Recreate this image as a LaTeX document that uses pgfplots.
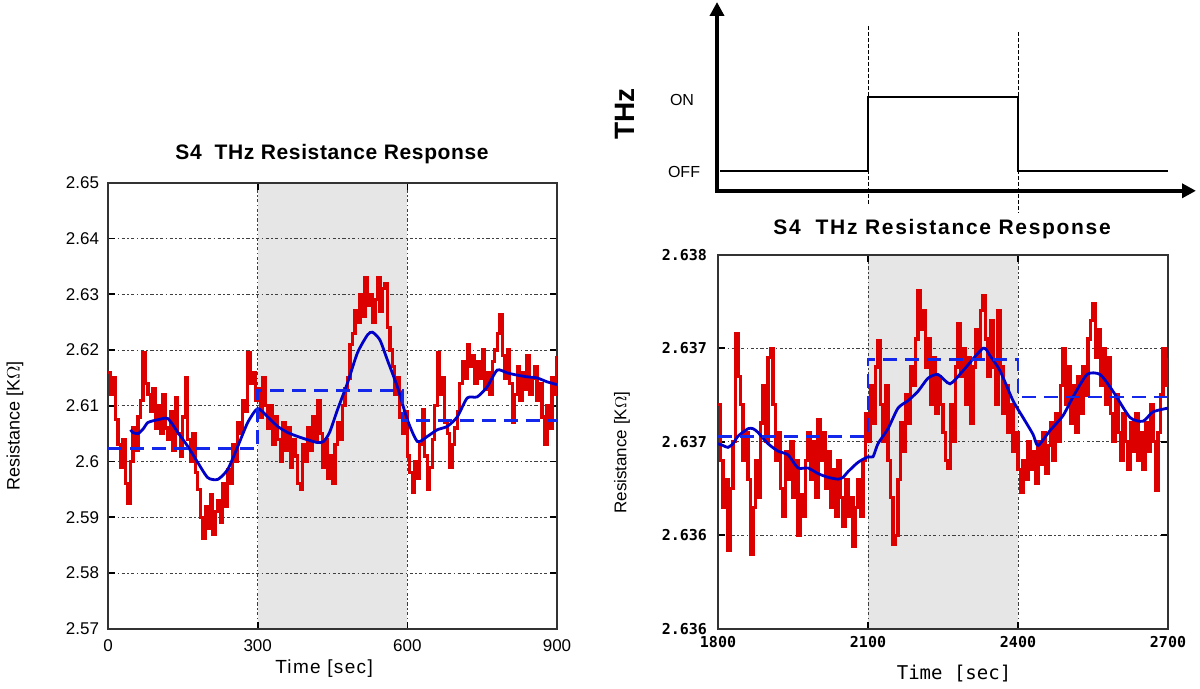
\documentclass[border=0pt]{standalone}
\usepackage{fontspec}
\setmainfont{Liberation Sans}
\newfontfamily\monof{DejaVu Sans Mono}
\usepackage{pgfplots}
\usepackage{pgfplotstable}
\pgfplotsset{compat=1.18}
\usetikzlibrary{arrows.meta}
\definecolor{rred}{RGB}{220,0,0}
\definecolor{bblue}{RGB}{0,0,200}
\definecolor{dblue}{RGB}{20,40,235}
\definecolor{bggray}{RGB}{230,230,230}

\pgfplotstableread{
t v
0 2.6160
5 2.6120
10 2.6150
15 2.6075
20 2.6030
25 2.5990
30 2.6040
35 2.5960
40 2.5925
45 2.6000
50 2.6060
55 2.6020
60 2.6080
65 2.6110
70 2.6195
75 2.6140
80 2.6120
85 2.6090
90 2.6130
95 2.6060
100 2.6100
105 2.6050
110 2.6120
115 2.6060
120 2.6040
125 2.6090
130 2.6020
135 2.6115
140 2.6050
145 2.6010
150 2.6080
155 2.6150
160 2.6040
165 2.6000
170 2.6050
175 2.5980
180 2.5950
185 2.5900
190 2.5863
195 2.5920
200 2.5880
205 2.5940
210 2.5870
215 2.5910
220 2.5930
225 2.5890
230 2.5960
235 2.5920
240 2.5985
245 2.5960
250 2.6030
255 2.6000
260 2.6070
265 2.6050
270 2.6110
275 2.6090
280 2.6195
285 2.6140
290 2.6160
295 2.6110
300 2.6130
305 2.6080
310 2.6150
315 2.6100
320 2.6060
325 2.6100
330 2.6030
335 2.6080
340 2.6040
345 2.6000
350 2.6070
355 2.6020
360 2.6060
365 2.5990
370 2.6040
375 2.6010
380 2.5960
385 2.5950
390 2.6030
395 2.6000
400 2.6060
405 2.6020
410 2.6080
415 2.6040
420 2.6110
425 2.6050
430 2.5990
435 2.6040
440 2.5970
445 2.6010
450 2.5960
455 2.6030
460 2.6070
465 2.6040
470 2.6100
475 2.6130
480 2.6150
485 2.6210
490 2.6230
495 2.6270
500 2.6250
505 2.6300
510 2.6260
515 2.6330
520 2.6280
525 2.6300
530 2.6250
535 2.6290
540 2.6330
545 2.6270
550 2.6310
555 2.6320
560 2.6240
565 2.6200
570 2.6170
575 2.6120
580 2.6150
585 2.6080
590 2.6050
595 2.6090
600 2.6010
605 2.5980
610 2.5945
615 2.6000
620 2.5970
625 2.6030
630 2.6093
635 2.6010
640 2.5950
645 2.5990
650 2.6040
655 2.6100
660 2.6195
665 2.6120
670 2.6150
675 2.6070
680 2.6050
685 2.5990
690 2.6030
695 2.6060
700 2.6090
705 2.6140
710 2.6180
715 2.6150
720 2.6210
725 2.6170
730 2.6190
735 2.6140
740 2.6180
745 2.6150
750 2.6200
755 2.6130
760 2.6160
765 2.6120
770 2.6180
775 2.6200
780 2.6230
785 2.6263
790 2.6190
795 2.6150
800 2.6200
805 2.6140
810 2.6070
815 2.6120
820 2.6170
825 2.6110
830 2.6160
835 2.6130
840 2.6190
845 2.6120
850 2.6150
855 2.6170
860 2.6110
865 2.6140
870 2.6080
875 2.6030
880 2.6100
885 2.6060
890 2.6150
895 2.6120
900 2.6190
}\leftred

\pgfplotstableread{
t v
45 2.6057
50 2.6052
60 2.6050
70 2.6058
80 2.6070
100 2.6075
120 2.6077
140 2.6052
160 2.6027
180 2.5998
200 2.5971
220 2.5968
240 2.5986
260 2.6027
280 2.6070
300 2.6095
320 2.6080
340 2.6063
360 2.6052
380 2.6045
400 2.6039
420 2.6034
432 2.6036
444 2.6052
460 2.6093
480 2.6141
500 2.6195
520 2.6227
530 2.6232
545 2.6218
560 2.6182
580 2.6134
600 2.6075
620 2.6036
640 2.6045
660 2.6057
680 2.6063
700 2.6080
720 2.6114
740 2.6116
760 2.6134
780 2.6164
800 2.6159
820 2.6155
840 2.6152
860 2.6150
880 2.6143
900 2.6138
}\leftblue

\pgfplotstableread{
t v
0 2.6023
300 2.6023
300 2.6127
590 2.6127
590 2.6073
900 2.6073
}\leftmean

\pgfplotstableread{
t v
1800 2.63720
1805 2.63690
1810 2.63665
1815 2.63680
1820 2.63642
1825 2.63675
1830 2.63700
1835 2.63758
1840 2.63735
1845 2.63720
1850 2.63690
1855 2.63705
1860 2.63680
1865 2.63640
1870 2.63665
1875 2.63690
1880 2.63670
1885 2.63710
1890 2.63730
1895 2.63700
1900 2.63745
1905 2.63750
1910 2.63720
1915 2.63690
1920 2.63705
1925 2.63675
1930 2.63660
1935 2.63695
1940 2.63680
1945 2.63700
1950 2.63670
1955 2.63690
1960 2.63650
1965 2.63672
1970 2.63660
1975 2.63690
1980 2.63705
1985 2.63680
1990 2.63700
1995 2.63670
2000 2.63712
2005 2.63690
2010 2.63705
2015 2.63675
2020 2.63695
2025 2.63665
2030 2.63685
2035 2.63660
2040 2.63690
2045 2.63670
2050 2.63655
2055 2.63680
2060 2.63660
2065 2.63670
2070 2.63644
2075 2.63665
2080 2.63680
2085 2.63660
2090 2.63690
2095 2.63715
2100 2.63700
2105 2.63730
2110 2.63710
2115 2.63740
2120 2.63754
2125 2.63720
2130 2.63700
2135 2.63730
2140 2.63690
2145 2.63670
2150 2.63645
2155 2.63650
2160 2.63680
2165 2.63710
2170 2.63695
2175 2.63725
2180 2.63710
2185 2.63740
2190 2.63730
2195 2.63755
2200 2.63781
2205 2.63760
2210 2.63770
2215 2.63740
2220 2.63755
2225 2.63720
2230 2.63745
2235 2.63715
2240 2.63735
2245 2.63720
2250 2.63705
2255 2.63690
2260 2.63686
2265 2.63720
2270 2.63700
2275 2.63740
2280 2.63763
2285 2.63735
2290 2.63750
2295 2.63720
2300 2.63745
2305 2.63710
2310 2.63740
2315 2.63760
2320 2.63745
2325 2.63770
2330 2.63778
2335 2.63755
2340 2.63735
2345 2.63765
2350 2.63740
2355 2.63720
2360 2.63770
2365 2.63740
2370 2.63715
2375 2.63730
2380 2.63705
2385 2.63720
2390 2.63695
2395 2.63705
2400 2.63685
2405 2.63673
2410 2.63690
2415 2.63680
2420 2.63700
2425 2.63685
2430 2.63695
2435 2.63678
2440 2.63700
2445 2.63688
2450 2.63705
2455 2.63683
2460 2.63698
2465 2.63710
2470 2.63690
2475 2.63715
2480 2.63700
2485 2.63730
2490 2.63750
2495 2.63720
2500 2.63740
2505 2.63710
2510 2.63730
2515 2.63705
2520 2.63735
2525 2.63715
2530 2.63740
2535 2.63725
2540 2.63755
2545 2.63765
2550 2.63774
2555 2.63745
2560 2.63760
2565 2.63730
2570 2.63750
2575 2.63720
2580 2.63745
2585 2.63715
2590 2.63700
2595 2.63725
2600 2.63705
2605 2.63690
2610 2.63715
2615 2.63700
2620 2.63685
2625 2.63710
2630 2.63695
2635 2.63715
2640 2.63690
2645 2.63705
2650 2.63685
2655 2.63710
2660 2.63695
2665 2.63720
2670 2.63700
2675 2.63674
2680 2.63705
2685 2.63725
2690 2.63750
2695 2.63730
2700 2.63745
}\rightred

\pgfplotstableread{
t v
1800 2.63699
1810 2.63698
1820 2.63697
1830 2.63699
1840 2.63703
1860 2.63707
1870 2.63707
1880 2.63705
1900 2.63699
1920 2.63695
1940 2.63693
1960 2.63686
1980 2.63686
2000 2.63683
2020 2.63681
2040 2.63680
2050 2.63681
2060 2.63684
2080 2.63689
2100 2.63692
2110 2.63692
2120 2.63699
2140 2.63707
2160 2.63718
2180 2.63722
2200 2.63727
2220 2.63734
2240 2.63736
2264 2.63731
2290 2.63738
2330 2.63750
2344 2.63746
2364 2.63738
2390 2.63722
2410 2.63713
2430 2.63704
2440 2.63698
2464 2.63706
2490 2.63714
2510 2.63724
2538 2.63736
2564 2.63736
2590 2.63727
2624 2.63713
2650 2.63711
2670 2.63716
2700 2.63718
}\rightblue

\pgfplotstableread{
t v
1800 2.63703
2100 2.63703
2100 2.63744
2400 2.63744
2400 2.63724
2700 2.63724
}\rightmean

\pgfplotsset{
  common/.style={
    scale only axis, anchor=south west, set layers,
    axis line style={black!80, line width=0.8pt},
    tick style={black, line width=0.8pt}, major tick length=3.5pt,
    grid=major,
    major grid style={black!75, line width=0.45pt, dash pattern=on 0.8pt off 1.2pt on 1.6pt off 1.2pt},
    /pgf/number format/assume math mode=true,
    clip=true,
  }
}

\begin{document}
\begin{tikzpicture}[x=0.5pt,y=-0.5pt]

% ---------------- left panel ----------------
\begin{axis}[common,
  at={(54pt,-314pt)}, width=224.5pt, height=223pt,
  xmin=0, xmax=900, ymin=2.57, ymax=2.65,
  xtick={0,300,600,900},
  ytick={2.57,2.58,2.59,2.6,2.61,2.62,2.63,2.64,2.65},
  yticklabels={2.57,2.58,2.59,2.6,2.61,2.62,2.63,2.64,2.65},
  ticklabel style={font=\fontsize{8.5}{9}\selectfont},
  yticklabel style={xshift=-1pt},
  xticklabel style={yshift=-2pt},
]
\begin{pgfonlayer}{axis background}
\fill[bggray] (axis cs:300,2.57) rectangle (axis cs:600,2.65);
\end{pgfonlayer}
\addplot[const plot, rred, line width=1.6pt] table[x=t,y=v] {\leftred};
\addplot[smooth, tension=0.4, bblue, line width=1.4pt] table[x=t,y=v] {\leftblue};
\addplot[dblue, line width=1.4pt, dash pattern=on 7pt off 4pt] table[x=t,y=v] {\leftmean};
\end{axis}

% ---------------- right panel ----------------
\begin{axis}[common,
  at={(359pt,-314pt)}, width=225pt, height=187pt,
  xmin=1800, xmax=2700, ymin=2.636, ymax=2.638,
  xtick={1800,2100,2400,2700},
  xticklabels={1800,2100,2400,2700},
  ytick={2.636,2.6365,2.637,2.6375,2.638},
  yticklabels={2.636,2.636,2.637,2.637,2.638},
  ticklabel style={font=\monof\bfseries\fontsize{7.5}{8}\selectfont},
  yticklabel style={xshift=-2pt},
  xticklabel style={yshift=-0.5pt},
]
\begin{pgfonlayer}{axis background}
\fill[bggray] (axis cs:2100,2.636) rectangle (axis cs:2400,2.638);
\end{pgfonlayer}
\addplot[const plot, rred, line width=1.6pt] table[x=t,y=v] {\rightred};
\addplot[smooth, tension=0.4, bblue, line width=1.4pt] table[x=t,y=v] {\rightblue};
\addplot[dblue, line width=1.4pt, dash pattern=on 7pt off 4pt] table[x=t,y=v] {\rightmean};
\end{axis}

% ---------------- THz schematic ----------------
\begin{axis}[
  at={(359pt,-95pt)}, anchor=south west, scale only axis,
  width=225pt, height=80pt,
  xmin=1800, xmax=2700, ymin=0, ymax=1,
  axis lines=none, clip=false,
]
\addplot[const plot, black, line width=1.1pt] coordinates {
 (1804,0.125) (2100,0.125) (2100,0.5875) (2400,0.5875) (2400,0.125) (2700,0.125)};
\draw[black, line width=0.5pt, dash pattern=on 2pt off 1pt] (axis cs:2100,1.03) -- (axis cs:2100,-0.094);
\draw[black, line width=0.5pt, dash pattern=on 2pt off 1pt] (axis cs:2400,0.99) -- (axis cs:2400,-0.14);
\draw[line width=2pt, -{Triangle[length=7pt,width=7pt]}] (axis cs:1798,-0.01) -- (axis cs:1798,1.18);
\draw[line width=2pt, -{Triangle[length=7pt,width=7pt]}] (axis cs:1794,0) -- (axis cs:2756,0);
\end{axis}

% ---------------- texts ----------------
\node[font=\bfseries\fontsize{10.5}{12}\selectfont\addfontfeature{LetterSpace=3}] at (332,153) {S4\ \ THz Resistance Response};
\node[font=\bfseries\fontsize{10.5}{12}\selectfont\addfontfeature{LetterSpace=8}] at (942,228) {S4\ \ THz Resistance Response};
\node[font=\fontsize{9.5}{11}\selectfont\addfontfeature{LetterSpace=7}] at (324,668) {Time [sec]};
\node[font=\monof\fontsize{9.5}{11}\selectfont] at (954,673) {Time [sec]};
\node[rotate=90, font=\fontsize{9}{11}\selectfont] at (15,425) {Resistance [K$\Omega$]};
\node[rotate=90, font=\fontsize{8.5}{10}\selectfont] at (622,452) {Resistance [K$\Omega$]};
\node[rotate=90, font=\bfseries\fontsize{14}{16}\selectfont] at (625,113) {THz};
\node[font=\fontsize{8}{10}\selectfont] at (682,99) {ON};
\node[font=\fontsize{8}{10}\selectfont] at (684,171) {OFF};
\path (0,0) rectangle (1200,684);
\end{tikzpicture}
\end{document}
